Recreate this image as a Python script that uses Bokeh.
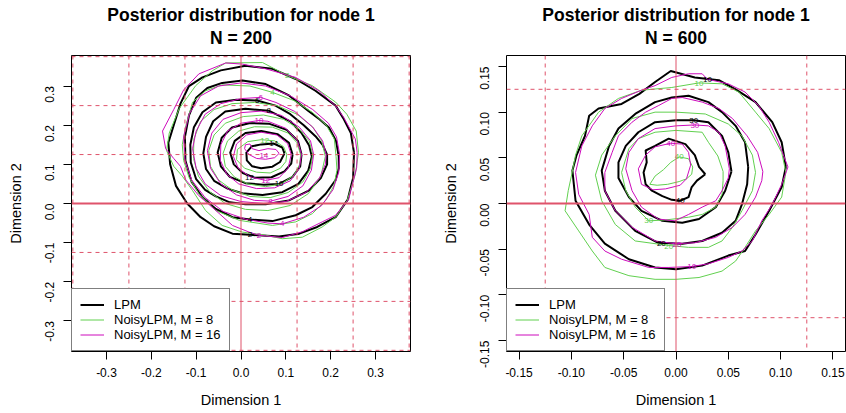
import math
from bokeh.plotting import figure
from bokeh.layouts import row
from bokeh.models import (Span, Legend, LegendItem, FixedTicker, NumeralTickFormatter,
                          Title, ColumnDataSource)
from bokeh.embed import file_html
from bokeh.resources import INLINE
from bokeh.core.properties import value

FONT = "Liberation Sans"
C_LPM = "black"
C_M8 = "#61D04F"
C_M16 = "#CD0BBC"
C_GRID = "#DF536B"

# ---------------- Left panel (N = 200) ----------------
left_ticks = [-0.3, -0.2, -0.1, 0.0, 0.1, 0.2, 0.3]
left_grid_dashed = [-0.375, -0.25, -0.125, 0.125, 0.25, 0.375]

left_lpm_2 = [(0.252,0.130),(0.245,0.180),(0.228,0.218),(0.211,0.250),(0.166,0.288),(0.122,0.318),(0.070,0.344),(0.010,0.352),(-0.045,0.340),(-0.086,0.322),(-0.116,0.300),(-0.135,0.255),(-0.150,0.200),(-0.162,0.155),(-0.158,0.100),(-0.145,0.045),(-0.120,0.000),(-0.090,-0.035),(-0.060,-0.058),(-0.019,-0.077),(0.020,-0.080),(0.085,-0.084),(0.130,-0.077),(0.170,-0.060),(0.211,-0.035),(0.238,0.010),(0.250,0.065)]
left_lpm_4 = [(0.218,0.120),(0.212,0.160),(0.196,0.194),(0.175,0.215),(0.151,0.236),(0.107,0.276),(0.055,0.305),(0.003,0.314),(-0.042,0.308),(-0.075,0.295),(-0.100,0.270),(-0.116,0.225),(-0.125,0.170),(-0.124,0.110),(-0.110,0.055),(-0.086,0.016),(-0.056,-0.014),(-0.019,-0.035),(0.020,-0.041),(0.070,-0.045),(0.122,-0.030),(0.159,-0.009),(0.189,0.025),(0.211,0.060),(0.218,0.090)]
left_lpm_6 = [(0.192,0.125),(0.182,0.150),(0.166,0.172),(0.140,0.200),(0.110,0.228),(0.077,0.250),(0.036,0.263),(-0.010,0.265),(-0.056,0.258),(-0.086,0.233),(-0.105,0.195),(-0.113,0.150),(-0.112,0.105),(-0.100,0.062),(-0.080,0.035),(-0.056,0.018),(-0.025,0.003),(0.010,-0.002),(0.055,-0.002),(0.107,0.008),(0.151,0.033),(0.178,0.065),(0.192,0.100)]
left_lpm_8 = [(0.158,0.120),(0.152,0.148),(0.135,0.180),(0.110,0.210),(0.062,0.237),(0.010,0.242),(-0.035,0.235),(-0.062,0.210),(-0.078,0.170),(-0.084,0.128),(-0.078,0.088),(-0.060,0.058),(-0.030,0.038),(0.003,0.026),(0.048,0.022),(0.092,0.029),(0.128,0.050),(0.150,0.084)]
left_lpm_10 = [(0.135,0.125),(0.127,0.160),(0.102,0.188),(0.062,0.204),(0.018,0.205),(-0.020,0.194),(-0.043,0.168),(-0.052,0.130),(-0.045,0.095),(-0.025,0.068),(0.010,0.052),(0.050,0.048),(0.085,0.050),(0.115,0.068),(0.132,0.095)]
left_lpm_12 = [(0.115,0.125),(0.107,0.155),(0.082,0.177),(0.045,0.185),(0.010,0.180),(-0.014,0.160),(-0.024,0.130),(-0.016,0.100),(0.004,0.078),(0.030,0.066),(0.068,0.067),(0.097,0.082),(0.112,0.102)]
left_lpm_14 = [(0.097,0.128),(0.092,0.143),(0.073,0.153),(0.045,0.151),(0.024,0.146),(0.012,0.130),(0.013,0.110),(0.025,0.095),(0.045,0.090),(0.070,0.094),(0.087,0.106)]

left_m8_2 = [(0.262,0.130),(0.257,0.185),(0.236,0.228),(0.211,0.259),(0.159,0.301),(0.103,0.327),(0.048,0.360),(-0.034,0.359),(-0.064,0.339),(-0.101,0.301),(-0.138,0.242),(-0.160,0.180),(-0.166,0.135),(-0.150,0.095),(-0.131,0.070),(-0.108,0.033),(-0.079,-0.018),(-0.042,-0.056),(0.003,-0.073),(0.055,-0.081),(0.092,-0.090),(0.137,-0.086),(0.181,-0.060),(0.211,-0.035),(0.237,0.008),(0.255,0.075)]
left_m8_4 = [(0.212,0.120),(0.208,0.165),(0.190,0.200),(0.160,0.232),(0.120,0.262),(0.070,0.284),(0.020,0.300),(-0.042,0.303),(-0.079,0.288),(-0.108,0.259),(-0.123,0.199),(-0.131,0.150),(-0.128,0.110),(-0.116,0.067),(-0.094,0.025),(-0.056,-0.018),(-0.004,-0.043),(0.070,-0.056),(0.122,-0.047),(0.159,-0.026),(0.189,0.008),(0.207,0.045),(0.214,0.085)]
left_m8_6 = [(0.188,0.120),(0.180,0.160),(0.160,0.195),(0.125,0.228),(0.080,0.250),(0.030,0.258),(-0.020,0.255),(-0.060,0.240),(-0.090,0.210),(-0.105,0.165),(-0.106,0.115),(-0.095,0.070),(-0.070,0.030),(-0.035,0.000),(0.010,-0.015),(0.060,-0.018),(0.110,-0.005),(0.150,0.025),(0.178,0.070)]
left_m8_8 = [(0.160,0.125),(0.152,0.160),(0.130,0.190),(0.095,0.215),(0.050,0.226),(0.005,0.222),(-0.035,0.205),(-0.060,0.175),(-0.072,0.135),(-0.068,0.095),(-0.050,0.060),(-0.020,0.035),(0.020,0.018),(0.065,0.015),(0.105,0.028),(0.138,0.055),(0.155,0.090)]
left_m8_10 = [(0.133,0.125),(0.125,0.155),(0.105,0.180),(0.070,0.195),(0.030,0.196),(-0.005,0.185),(-0.030,0.160),(-0.040,0.128),(-0.035,0.095),(-0.015,0.068),(0.015,0.050),(0.055,0.043),(0.090,0.050),(0.118,0.072),(0.131,0.100)]
left_m8_12 = [(0.102,0.125),(0.095,0.145),(0.075,0.160),(0.045,0.163),(0.015,0.158),(-0.008,0.138),(-0.010,0.112),(0.008,0.090),(0.035,0.080),(0.065,0.078),(0.088,0.090),(0.100,0.107)]

left_m16_2 = [(0.259,0.130),(0.255,0.165),(0.229,0.220),(0.211,0.249),(0.174,0.288),(0.122,0.322),(0.055,0.344),(0.003,0.356),(-0.034,0.359),(-0.094,0.331),(-0.128,0.290),(-0.150,0.240),(-0.175,0.185),(-0.168,0.140),(-0.150,0.115),(-0.135,0.095),(-0.123,0.060),(-0.094,0.020),(-0.056,-0.018),(-0.019,-0.056),(0.018,-0.073),(0.040,-0.081),(0.092,-0.087),(0.137,-0.072),(0.181,-0.047),(0.211,-0.030),(0.240,0.010),(0.258,0.092)]
left_m16_4 = [(0.220,0.125),(0.213,0.170),(0.195,0.205),(0.160,0.240),(0.110,0.275),(0.055,0.300),(0.000,0.308),(-0.050,0.300),(-0.090,0.275),(-0.115,0.230),(-0.128,0.170),(-0.125,0.110),(-0.110,0.060),(-0.080,0.015),(-0.040,-0.020),(0.010,-0.040),(0.060,-0.050),(0.092,-0.052),(0.140,-0.035),(0.180,-0.005),(0.205,0.035),(0.218,0.080)]
left_m16_6 = [(0.190,0.125),(0.182,0.160),(0.160,0.195),(0.120,0.235),(0.078,0.258),(0.044,0.271),(0.000,0.268),(-0.045,0.255),(-0.080,0.228),(-0.100,0.185),(-0.108,0.140),(-0.100,0.090),(-0.080,0.050),(-0.045,0.020),(0.000,0.005),(0.050,0.000),(0.100,0.005),(0.145,0.028),(0.175,0.065),(0.188,0.100)]
left_m16_8 = [(0.162,0.125),(0.155,0.160),(0.130,0.195),(0.090,0.225),(0.045,0.236),(0.000,0.232),(-0.040,0.215),(-0.065,0.180),(-0.075,0.135),(-0.068,0.090),(-0.045,0.050),(-0.010,0.022),(0.030,0.008),(0.066,0.006),(0.105,0.018),(0.138,0.045),(0.157,0.085)]
left_m16_10 = [(0.135,0.125),(0.126,0.160),(0.100,0.192),(0.060,0.210),(0.040,0.212),(0.000,0.205),(-0.030,0.185),(-0.045,0.150),(-0.046,0.110),(-0.032,0.075),(-0.005,0.050),(0.035,0.038),(0.075,0.040),(0.110,0.058),(0.130,0.090)]
left_m16_12 = [(0.112,0.125),(0.104,0.153),(0.080,0.175),(0.045,0.182),(0.012,0.175),(-0.010,0.152),(-0.017,0.120),(-0.006,0.090),(0.020,0.068),(0.055,0.059),(0.085,0.066),(0.105,0.090)]
left_m16_14 = [(0.085,0.128),(0.078,0.138),(0.060,0.140),(0.040,0.135),(0.025,0.140),(0.020,0.152),(0.010,0.150),(0.008,0.140),(0.018,0.125),(0.035,0.115),(0.055,0.113),(0.075,0.117)]

left_lpm = [left_lpm_2, left_lpm_4, left_lpm_6, left_lpm_8, left_lpm_10, left_lpm_12, left_lpm_14]
left_m8 = [left_m8_2, left_m8_4, left_m8_6, left_m8_8, left_m8_10, left_m8_12]
left_m16 = [left_m16_2, left_m16_4, left_m16_6, left_m16_8, left_m16_10, left_m16_12, left_m16_14]

left_lpm_labels = [("2",0.020,-0.080),("4",0.020,-0.041),("6",0.036,0.263),("8",0.062,0.237),("10",0.085,0.050),("12",0.019,0.066),("14",0.073,0.153)]
left_m8_labels = [("2",0.103,0.327),("4",0.070,0.284),("12",0.053,0.162)]
left_m16_labels = [("2",0.040,-0.081),("4",0.092,-0.052),("6",0.044,0.271),("8",0.066,0.006),("10",0.040,0.212),("12",0.055,0.059),("14",0.051,0.122)]

# ---------------- Right panel (N = 600) ----------------
right_ticks = [-0.15, -0.10, -0.05, 0.0, 0.05, 0.10, 0.15]
right_grid_dashed = [-0.125, 0.125]

right_lpm_10 = [(0.105,0.040),(0.101,0.067),(0.092,0.089),(0.076,0.111),(0.057,0.125),(0.041,0.135),(0.018,0.138),(-0.005,0.145),(-0.020,0.133),(-0.035,0.120),(-0.052,0.109),(-0.074,0.104),(-0.083,0.096),(-0.087,0.074),(-0.095,0.053),(-0.099,0.036),(-0.096,0.003),(-0.083,-0.023),(-0.068,-0.044),(-0.045,-0.061),(-0.020,-0.070),(0.000,-0.072),(0.025,-0.068),(0.050,-0.057),(0.066,-0.052),(0.076,-0.034),(0.089,-0.008),(0.101,0.018)]
right_lpm_20 = [(0.069,0.040),(0.066,0.067),(0.057,0.085),(0.044,0.100),(0.031,0.111),(0.012,0.118),(-0.004,0.116),(-0.020,0.111),(-0.039,0.098),(-0.055,0.082),(-0.064,0.063),(-0.071,0.036),(-0.068,0.014),(-0.058,-0.008),(-0.039,-0.030),(-0.017,-0.043),(0.006,-0.044),(0.025,-0.041),(0.044,-0.032),(0.057,-0.019),(0.063,-0.001),(0.068,0.021)]
right_lpm_30 = [(0.053,0.035),(0.050,0.056),(0.044,0.074),(0.031,0.089),(0.017,0.091),(0.000,0.091),(-0.020,0.089),(-0.036,0.078),(-0.048,0.063),(-0.055,0.045),(-0.055,0.028),(-0.045,0.007),(-0.033,-0.008),(-0.013,-0.019),(0.006,-0.021),(0.022,-0.017),(0.038,-0.004),(0.047,0.014)]
right_lpm_40 = [(0.028,0.032),(0.022,0.040),(0.018,0.053),(0.009,0.065),(-0.007,0.071),(-0.020,0.063),(-0.029,0.058),(-0.028,0.045),(-0.031,0.034),(-0.029,0.021),(-0.023,0.014),(-0.013,0.008),(-0.004,0.004),(0.004,0.003),(0.012,0.007),(0.015,0.018),(0.020,0.025)]

right_m8_10 = [(0.105,0.034),(0.101,0.056),(0.089,0.082),(0.076,0.100),(0.060,0.122),(0.044,0.131),(0.022,0.132),(-0.004,0.127),(-0.033,0.124),(-0.055,0.115),(-0.074,0.100),(-0.090,0.074),(-0.096,0.053),(-0.100,0.030),(-0.103,0.014),(-0.106,-0.008),(-0.093,-0.030),(-0.080,-0.052),(-0.068,-0.070),(-0.045,-0.079),(-0.020,-0.083),(0.000,-0.083),(0.022,-0.081),(0.044,-0.074),(0.057,-0.063),(0.066,-0.048),(0.076,-0.030),(0.089,-0.012),(0.101,0.007)]
right_m8_20 = [(0.076,0.034),(0.073,0.053),(0.063,0.074),(0.050,0.087),(0.028,0.098),(0.000,0.100),(-0.020,0.100),(-0.042,0.093),(-0.058,0.074),(-0.071,0.053),(-0.077,0.031),(-0.071,0.003),(-0.058,-0.023),(-0.039,-0.041),(-0.007,-0.046),(0.012,-0.048),(0.031,-0.048),(0.044,-0.041),(0.054,-0.026),(0.063,-0.008),(0.073,0.014)]
right_m8_30 = [(0.045,0.035),(0.040,0.052),(0.031,0.067),(0.025,0.078),(0.000,0.080),(-0.020,0.078),(-0.036,0.071),(-0.045,0.060),(-0.048,0.049),(-0.052,0.034),(-0.048,0.014),(-0.039,-0.004),(-0.026,-0.019),(-0.010,-0.018),(0.012,-0.015),(0.025,-0.012),(0.038,-0.004),(0.044,0.010),(0.045,0.025)]
right_m8_40 = [(0.016,0.040),(0.012,0.049),(0.003,0.051),(-0.005,0.045),(-0.012,0.037),(-0.020,0.030),(-0.025,0.021),(-0.018,0.020),(-0.008,0.021),(0.003,0.024),(0.010,0.027),(0.015,0.032)]

right_m16_10 = [(0.107,0.040),(0.098,0.067),(0.089,0.089),(0.079,0.107),(0.066,0.122),(0.050,0.131),(0.030,0.136),(0.025,0.142),(0.012,0.142),(-0.004,0.138),(-0.020,0.129),(-0.033,0.124),(-0.052,0.115),(-0.068,0.104),(-0.080,0.085),(-0.090,0.063),(-0.096,0.034),(-0.093,0.010),(-0.083,-0.012),(-0.080,-0.037),(-0.068,-0.052),(-0.052,-0.061),(-0.026,-0.070),(-0.007,-0.070),(0.015,-0.069),(0.031,-0.066),(0.050,-0.059),(0.063,-0.052),(0.073,-0.041),(0.082,-0.019),(0.092,-0.001),(0.101,0.021)]
right_m16_20 = [(0.083,0.035),(0.078,0.056),(0.068,0.074),(0.054,0.093),(0.041,0.104),(0.025,0.111),(0.006,0.116),(-0.004,0.115),(-0.017,0.107),(-0.029,0.100),(-0.042,0.089),(-0.055,0.074),(-0.061,0.056),(-0.068,0.034),(-0.068,0.014),(-0.058,-0.008),(-0.042,-0.026),(-0.020,-0.041),(-0.001,-0.044),(0.018,-0.043),(0.038,-0.037),(0.054,-0.026),(0.066,-0.012),(0.076,0.007),(0.082,0.025)]
right_m16_30 = [(0.051,0.038),(0.047,0.063),(0.041,0.078),(0.031,0.085),(0.018,0.086),(0.000,0.085),(-0.020,0.082),(-0.036,0.071),(-0.045,0.056),(-0.048,0.038),(-0.042,0.014),(-0.033,-0.004),(-0.017,-0.017),(-0.001,-0.019),(0.012,-0.012),(0.025,-0.004),(0.038,0.003),(0.044,0.014),(0.050,0.028)]
right_m16_40 = [(0.014,0.042),(0.012,0.056),(0.006,0.065),(-0.005,0.066),(-0.020,0.062),(-0.029,0.053),(-0.036,0.038),(-0.033,0.021),(-0.022,0.015),(-0.010,0.016),(0.004,0.020),(0.010,0.027)]

right_lpm = [right_lpm_10, right_lpm_20, right_lpm_30, right_lpm_40]
right_m8 = [right_m8_10, right_m8_20, right_m8_30, right_m8_40]
right_m16 = [right_m16_10, right_m16_20, right_m16_30, right_m16_40]

right_lpm_labels = [("10",0.030,0.136),("30",0.017,0.091),("40",0.004,0.003),("20",-0.014,-0.044)]
right_m8_labels = [("10",0.022,0.131),("40",0.003,0.051),("30",-0.026,-0.019),("20",-0.007,-0.047)]
right_m16_labels = [("10",0.015,-0.069),("30",0.018,0.085),("40",-0.005,0.066),("20",0.001,-0.045)]

series_names = ["LPM", "NoisyLPM, M = 8", "NoisyLPM, M = 16"]
main_title = "Posterior distribution for node 1"


def closed(pts):
    xs = [p[0] for p in pts] + [pts[0][0]]
    ys = [p[1] for p in pts] + [pts[0][1]]
    return xs, ys


def make_panel(lim, ticks, fmt, dashed, contours, labels, subtitle, bl, br):
    p = figure(frame_width=339, frame_height=296, x_range=(-lim, lim), y_range=(-lim, lim),
               output_backend="svg", toolbar_location=None,
               min_border_left=bl, min_border_right=br, min_border_top=55, min_border_bottom=62,
               background_fill_color="white", border_fill_color="white")
    p.xgrid.visible = False
    p.ygrid.visible = False
    p.outline_line_color = "black"
    p.outline_line_width = 1
    p.outline_line_alpha = 1

    for v in dashed:
        p.add_layout(Span(location=v, dimension="height", line_color=C_GRID, line_dash="4 4", line_width=1))
        p.add_layout(Span(location=v, dimension="width", line_color=C_GRID, line_dash="4 4", line_width=1))
    p.add_layout(Span(location=0, dimension="height", line_color=C_GRID, line_width=1))
    p.add_layout(Span(location=0, dimension="width", line_color=C_GRID, line_width=2))

    colors = [C_LPM, C_M8, C_M16]
    widths = [2, 1, 1]
    renderers = []
    for conts, col, w in zip(contours, colors, widths):
        xs, ys = [], []
        for c in conts:
            cx, cy = closed(c)
            xs.append(cx)
            ys.append(cy)
        r = p.multi_line(xs=xs, ys=ys, line_color=col, line_width=w, line_join="round")
        renderers.append(r)
    for labs, col in zip(labels, colors):
        src = ColumnDataSource(dict(t=[l[0] for l in labs], x=[l[1] for l in labs], y=[l[2] for l in labs]))
        p.text(x="x", y="y", text="t", source=src, text_color=col, text_font_size="8px",
               text_align="center", text_baseline="middle", text_font=value(FONT))

    for ax in (p.xaxis[0], p.yaxis[0]):
        ax.ticker = FixedTicker(ticks=ticks)
        ax.formatter = NumeralTickFormatter(format=fmt)
        ax.axis_line_color = None
        ax.major_tick_line_color = "black"
        ax.major_tick_out = 8
        ax.major_tick_in = 0
        ax.minor_tick_line_color = None
        ax.major_label_text_font = FONT
        ax.major_label_text_font_size = "12px"
        ax.major_label_text_color = "black"
        ax.axis_label_text_font = FONT
        ax.axis_label_text_font_size = "14.5px"
        ax.axis_label_text_font_style = "normal"
        ax.axis_label_text_color = "black"
    p.xaxis.axis_label = "Dimension 1"
    p.yaxis.axis_label = "Dimension 2"
    p.xaxis.major_label_standoff = 8
    p.xaxis.axis_label_standoff = 12
    p.yaxis.major_label_standoff = 14
    p.yaxis.axis_label_standoff = 14
    p.yaxis.major_label_orientation = math.pi / 2

    # spacer between the frame and the two title lines
    p.add_layout(Title(text=" ", text_font_size="1px", standoff=5), "above")
    p.add_layout(Title(text=subtitle, align="center", text_font=FONT, text_font_size="17.5px",
                       text_font_style="bold", text_color="black", standoff=0), "above")
    p.add_layout(Title(text=main_title, align="center", text_font=FONT,
                       text_font_size="17.5px", text_font_style="bold", text_color="black", standoff=2), "above")

    legend = Legend(items=[LegendItem(label=n, renderers=[r]) for n, r in zip(series_names, renderers)],
                    location=(0, 0), margin=0, padding=8, spacing=0, glyph_width=24, glyph_height=15,
                    label_height=15, label_standoff=10, label_text_font=FONT, label_text_font_size="13px",
                    label_text_color="black", border_line_color="black", border_line_width=1,
                    background_fill_color="white", background_fill_alpha=1)
    p.add_layout(legend)
    return p


p1 = make_panel(0.378, left_ticks, "0.0", left_grid_dashed, [left_lpm, left_m8, left_m16],
                [left_lpm_labels, left_m8_labels, left_m16_labels], "N = 200", 71, 13)
p2 = make_panel(0.162, right_ticks, "0.00", right_grid_dashed, [right_lpm, right_m8, right_m16],
                [right_lpm_labels, right_m8_labels, right_m16_labels], "N = 600", 83, 1)

layout = row(p1, p2)
open("out.html", "w").write(file_html(layout, INLINE))
